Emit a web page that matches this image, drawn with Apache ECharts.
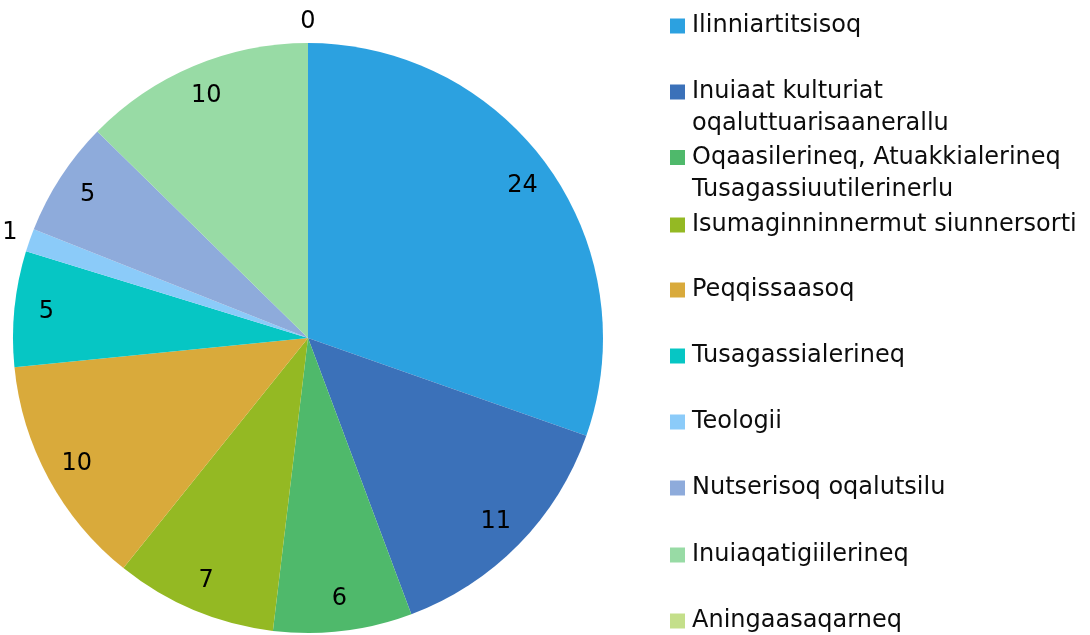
<!DOCTYPE html>
<html>
<head>
<meta charset="utf-8">
<script src="https://cdn.jsdelivr.net/npm/echarts@6/dist/echarts.min.js"></script>
<style>
  html, body { margin: 0; padding: 0; background: #fff; }
  #chart { width: 1090px; height: 635px; }
</style>
</head>
<body>
<div id="chart"></div>
<script>
// categories and values, clockwise from 12 o'clock
const categories = [
  'Ilinniartitsisoq',
  'Inuiaat kulturiat oqaluttuarisaanerallu',
  'Oqaasilerineq, Atuakkialerineq Tusagassiuutilerinerlu',
  'Isumaginninnermut siunnersorti',
  'Peqqissaasoq',
  'Tusagassialerineq',
  'Teologii',
  'Nutserisoq oqalutsilu',
  'Inuiaqatigiilerineq',
  'Aningaasaqarneq'
]
const values = [24, 11, 6, 7, 10, 5, 1, 5, 10, 0]
const colors = [
  '#2ca1e0', '#3b71b9', '#4fb96b', '#94b923', '#d9aa3b',
  '#06c6c4', '#8bcbf9', '#8eabdb', '#98dba5', '#c4df8a'
]

const FONT = 'DejaVu Sans'
const pieCenter = [308, 338]
const pieR = 295

// legend marker centres (px) for each row
const legendMarkerY = [26, 92, 157.5, 225, 290, 356, 422, 488, 555, 621]

const chart = echarts.init(document.getElementById('chart'))

const mainData = categories.map((name, i) => ({
  name,
  value: values[i],
  itemStyle: { color: colors[i] }
}))

// transparent overlay rings just to place the labels near the rim
const labelData = (small) => categories.map((name, i) => ({
  name,
  value: values[i],
  label: { show: small ? values[i] <= 1 : values[i] > 1 }
}))

const labelSeries = (radius, small) => ({
  type: 'pie',
  center: pieCenter,
  radius,
  startAngle: 90,
  silent: true,
  avoidLabelOverlap: false,
  itemStyle: { color: 'rgba(0,0,0,0)' },
  label: {
    position: 'inside',
    formatter: '{c}',
    color: '#000',
    fontFamily: FONT,
    fontSize: 24
  },
  labelLine: { show: false },
  emphasis: { disabled: true },
  data: labelData(small)
})

const legends = categories.map((name, i) => {
  const twoLine = i === 1 || i === 2
  return {
    left: 670,
    top: legendMarkerY[i] - 16,
    padding: 0,
    orient: 'vertical',
    selectedMode: false,
    itemWidth: 15,
    itemHeight: twoLine ? 47 : 15,
    icon: twoLine ? 'path://M0,0H15V15H0Z M0,47' : 'rect',
    data: [name],
    textStyle: {
      fontFamily: FONT,
      fontSize: 24,
      lineHeight: 32,
      color: '#0d0d0d',
      width: 398,
      overflow: 'break',
      padding: [0, 0, 0, 2]
    }
  }
})

chart.setOption({
  backgroundColor: '#fff',
  animation: false,
  legend: legends,
  series: [
    {
      type: 'pie',
      center: pieCenter,
      radius: pieR,
      startAngle: 90,
      silent: true,
      label: { show: false },
      labelLine: { show: false },
      data: mainData
    },
    labelSeries([225, pieR], false),
    labelSeries([296, 330], true)
  ]
})
</script>
</body>
</html>
